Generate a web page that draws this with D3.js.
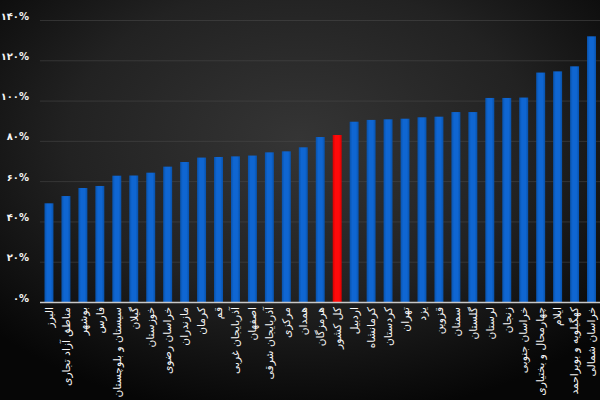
<!DOCTYPE html>
<html>
<head>
<meta charset="utf-8">
<script src="https://cdn.jsdelivr.net/npm/d3@7"></script>
<style>
html,body{margin:0;padding:0;background:#111;}
svg{display:block;}
</style>
</head>
<body>
<svg id="chart" width="600" height="400"></svg>
<script>
const categories = ["البرز","مناطق آزاد تجاری","بوشهر","فارس","سیستان و بلوچستان","گیلان","خوزستان","خراسان رضوی","مازندران","کرمان","قم","آذربایجان غربی","اصفهان","آذربایجان شرقی","مرکزی","همدان","هرمزگان","کل کشور","اردبیل","کرمانشاه","کردستان","تهران","یزد","قزوین","سمنان","گلستان","لرستان","زنجان","خراسان جنوبی","چهارمحال و بختیاری","ایلام","کهگیلویه و بویراحمد","خراسان شمالی"];
const values = [49.0,52.6,56.6,57.6,62.7,62.8,64.2,67.2,69.5,71.7,72.0,72.3,72.7,74.3,74.8,76.8,81.9,82.9,89.5,90.4,90.7,91.0,91.7,92.0,94.3,94.3,101.3,101.3,101.5,113.9,114.5,117.0,131.9];
const highlight = "کل کشور";
const yTicks = [0,20,40,60,80,100,120,140];
const yTickLabels = ["۰%","۲۰%","۴۰%","۶۰%","۸۰%","۱۰۰%","۱۲۰%","۱۴۰%"];

const W = 600, H = 400;
const svg = d3.select("#chart");
const defs = svg.append("defs");

const bg = defs.append("radialGradient").attr("id","bg")
  .attr("cx","50%").attr("cy","35%").attr("r","70%");
bg.append("stop").attr("offset","0%").attr("stop-color","#353535");
bg.append("stop").attr("offset","55%").attr("stop-color","#222");
bg.append("stop").attr("offset","100%").attr("stop-color","#060606");
svg.append("rect").attr("width",W).attr("height",H).attr("fill","url(#bg)");

const gb = defs.append("linearGradient").attr("id","blue").attr("x1","0").attr("x2","1").attr("y1","0").attr("y2","0");
gb.append("stop").attr("offset","0%").attr("stop-color","#0852ab");
gb.append("stop").attr("offset","30%").attr("stop-color","#0f66d2");
gb.append("stop").attr("offset","70%").attr("stop-color","#0f66d2");
gb.append("stop").attr("offset","100%").attr("stop-color","#0852ab");
const gr = defs.append("linearGradient").attr("id","red").attr("x1","0").attr("x2","1").attr("y1","0").attr("y2","0");
gr.append("stop").attr("offset","0%").attr("stop-color","#d80000");
gr.append("stop").attr("offset","30%").attr("stop-color","#ff0a0a");
gr.append("stop").attr("offset","70%").attr("stop-color","#ff0a0a");
gr.append("stop").attr("offset","100%").attr("stop-color","#d80000");

const x = d3.scaleBand().domain(categories).range([40.5, 600]).paddingInner(0.47).paddingOuter(0.235);
const y = d3.scaleLinear().domain([0,140]).range([302, 20]);

// gridlines
const grid = svg.append("g").attr("transform","translate(40,0)")
  .call(d3.axisLeft(y).tickValues(yTicks.slice(1)).tickSize(-560).tickFormat(""));
grid.select(".domain").remove();
grid.selectAll("line").attr("stroke","#4a4a4a").attr("stroke-opacity",0.55).attr("stroke-width",1);

// y labels
const yax = svg.append("g").attr("transform","translate(29,0)")
  .call(d3.axisLeft(y).tickValues(yTicks).tickSize(0).tickPadding(0)
    .tickFormat((d,i)=>yTickLabels[i]));
yax.select(".domain").remove();
yax.selectAll("text").attr("fill","#f4f4f4").style("font-family","'DejaVu Sans', sans-serif")
  .style("font-size","10px").style("font-weight","bold").attr("direction","ltr").attr("dy","-0.1em");

// bars
svg.append("g").selectAll("rect").data(categories).join("rect")
  .attr("x",d=>x(d)).attr("width",x.bandwidth())
  .attr("y",(d,i)=>y(values[i])).attr("height",(d,i)=>y(0)-y(values[i]))
  .attr("fill",d=>d===highlight?"url(#red)":"url(#blue)");

// baseline
svg.append("line").attr("x1",40).attr("x2",600).attr("y1",302.5).attr("y2",302.5)
  .attr("stroke","#c8c8c8").attr("stroke-width",1.5);

// x labels
const xax = svg.append("g").attr("transform","translate(0,302)")
  .call(d3.axisBottom(x).tickSize(0).tickPadding(0));
xax.select(".domain").remove();
xax.selectAll("text")
  .attr("transform","translate(0,5) rotate(-90)")
  .attr("x",0).attr("y",0).attr("dy","0.35em")
  .attr("text-anchor","end")
  .attr("fill","#f6f6f6")
  .style("font-family","'DejaVu Sans', sans-serif")
  .style("font-size","10.7px");
</script>
</body>
</html>
